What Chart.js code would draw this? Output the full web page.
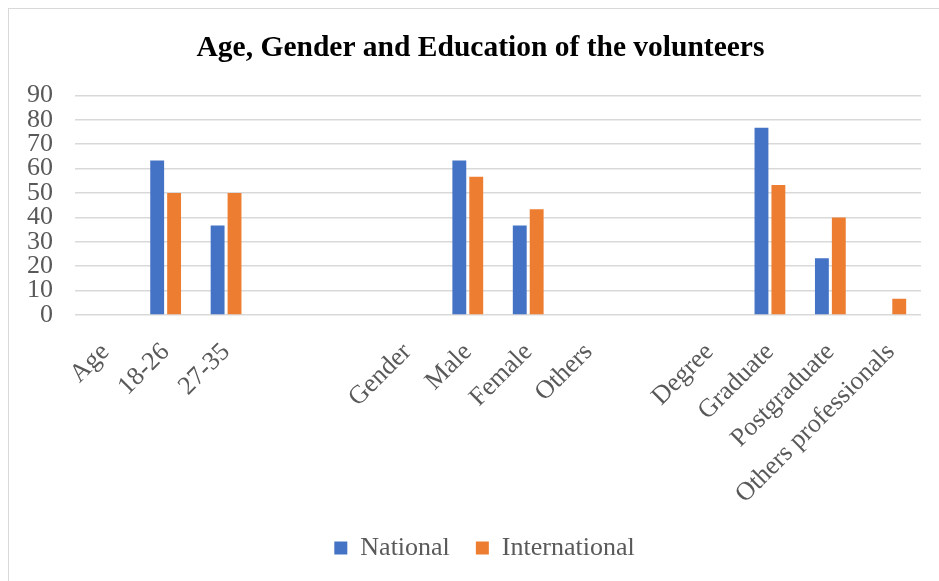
<!DOCTYPE html>
<html lang="en">
<head>
    <meta charset="UTF-8">
    <title>Age, Gender and Education of the volunteers</title>
    <script src="https://cdn.jsdelivr.net/npm/chart.js"></script>
    <style>
        html, body { margin: 0; padding: 0; background: #fff; overflow: hidden; }
        #wrap { position: relative; width: 939px; height: 581px; }
        #frame {
            position: absolute; left: 8px; top: 8px; width: 960px; height: 600px;
            border: 1.5px solid #d9d9d9; box-sizing: border-box;
        }
        canvas { position: absolute; left: 0; top: 0; }
    </style>
</head>
<body>
<div id="wrap">
    <div id="frame"></div>
    <canvas id="chart" width="939" height="581"></canvas>
</div>
<script>
    // Data (percent)
    const categories = ['Age', '18-26', '27-35', '', '', 'Gender', 'Male', 'Female', 'Others', '',
        'Degree', 'Graduate', 'Postgraduate', 'Others professionals'];
    const nationalValues = [null, 63.3, 36.7, null, null, null, 63.3, 36.7, 0, null, null, 76.7, 23.3, 0];
    const internationalValues = [null, 50, 50, null, null, null, 56.7, 43.3, 0, null, null, 53.3, 40, 6.7];
    const yTicks = [0, 10, 20, 30, 40, 50, 60, 70, 80, 90];

    const serif = "'Liberation Serif', 'Times New Roman', serif";
    const gray = '#595959';

    // nudge title and legend a little, like the original
    const shiftBoxes = {
        id: 'shiftBoxes',
        afterLayout(chart) {
            const t = chart.titleBlock, l = chart.legend;
            if (t) { t.left += 10; t.right += 10; }
            if (l) { l.left += 14; l.right += 14; l.top -= 10; l.bottom -= 10; }
        }
    };

    new Chart(document.getElementById('chart'), {
        type: 'bar',
        data: {
            labels: categories,
            datasets: [
                { label: 'National', data: nationalValues, backgroundColor: '#4472c4' },
                { label: 'International', data: internationalValues, backgroundColor: '#ed7d31' }
            ]
        },
        plugins: [shiftBoxes],
        options: {
            responsive: false,
            animation: false,
            devicePixelRatio: 1,
            categoryPercentage: 0.56,
            barPercentage: 0.82,
            layout: { padding: { left: 20, right: 18, top: 20, bottom: 0 } },
            plugins: {
                title: {
                    display: true,
                    text: 'Age, Gender and Education of the volunteers',
                    color: '#000',
                    font: { family: serif, size: 29.5, weight: 'bold' },
                    padding: { top: 11, bottom: 29 }
                },
                legend: {
                    position: 'bottom',
                    labels: {
                        color: gray,
                        boxWidth: 13,
                        boxHeight: 13,
                        padding: 26,
                        font: { family: serif, size: 26 },
                        generateLabels: (chart) => {
                            const items = Chart.defaults.plugins.legend.labels.generateLabels(chart);
                            return items.map(it => ({ ...it, lineWidth: 0 }));
                        }
                    }
                },
                tooltip: { enabled: false }
            },
            scales: {
                x: {
                    grid: { display: false },
                    border: { display: false },
                    ticks: {
                        color: gray,
                        font: { family: serif, size: 26 },
                        autoSkip: false,
                        maxRotation: 45,
                        minRotation: 45,
                        padding: 14
                    },
                    afterFit: (s) => { s.height = 204; }
                },
                y: {
                    min: 0,
                    max: 90,
                    grid: { color: '#d9d9d9', lineWidth: 1.5, drawTicks: false },
                    border: { display: false },
                    afterBuildTicks: (s) => { s.ticks = yTicks.map(v => ({ value: v })); },
                    ticks: {
                        color: gray,
                        font: { family: serif, size: 26 },
                        autoSkip: false,
                        padding: 22
                    },
                    afterFit: (s) => { s.width = 55; }
                }
            }
        }
    });
</script>
</body>
</html>
